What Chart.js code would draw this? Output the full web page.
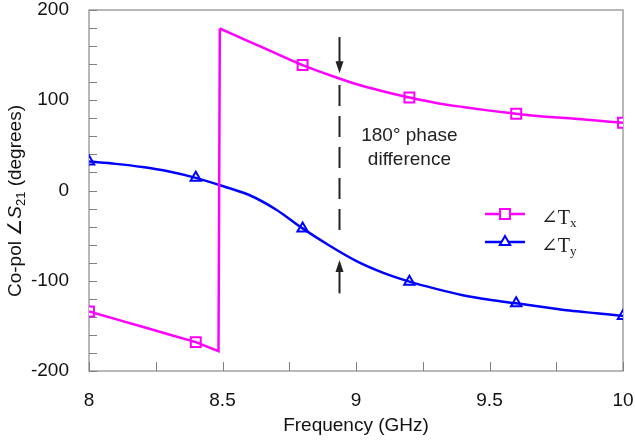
<!DOCTYPE html>
<html>
<head>
<meta charset="utf-8">
<script src="https://cdn.jsdelivr.net/npm/chart.js@4/dist/chart.umd.min.js"></script>
<style>
  html, body { margin: 0; padding: 0; background: #fff; }
  #wrap { width: 635px; height: 442px; }
</style>
</head>
<body>
<div id="wrap"><canvas id="grafica" width="635" height="442"></canvas></div>
<script>
// co-pol phase of the two transmission coefficients
const freqTx = [8, 8.1, 8.2, 8.3, 8.4, 8.485, 8.49, 8.6, 8.7, 8.8, 8.9, 9.0, 9.1, 9.2, 9.3, 9.4, 9.5, 9.6, 9.7, 9.8, 9.9, 10];
const phaseTx = [-134, -142.5, -151, -159.5, -168, -178, 179.5, 165, 152, 139, 128, 118, 110, 103, 97, 92.5, 88.5, 85, 82, 80, 77.5, 75];

const freqTy = [8, 8.1, 8.2, 8.3, 8.4, 8.5, 8.6, 8.7, 8.8, 8.9, 9.0, 9.1, 9.2, 9.3, 9.4, 9.5, 9.6, 9.7, 9.8, 9.9, 10];
const phaseTy = [32, 29.5, 26, 21, 14, 5, -5, -21, -42, -61, -78, -91, -101, -109, -116, -121, -125, -129, -133, -136, -139];

// frequencies that carry a marker
const markerFreq = [8, 8.4, 8.8, 9.2, 9.6, 10];

const xTickLabels = ["8", "8.5", "9", "9.5", "10"];
const yTickLabels = ["-200", "-100", "0", "100", "200"];

const MAGENTA = "#ff00ff";
const BLUE = "#0000ff";
const FONT = "'Liberation Sans', Arial, sans-serif";
const SERIF = "'Liberation Serif', 'DejaVu Serif', serif";

function pts(xs, ys) {
  return xs.map((x, i) => ({ x: x, y: ys[i] }));
}
function marks(xs, ys) {
  return pts(xs, ys).filter(p => markerFreq.some(f => Math.abs(f - p.x) < 1e-9));
}

// Tx wraps from -180 to +180: straight part up to the wrap, smooth part after
const txAll = pts(freqTx, phaseTx);
const wrapIdx = phaseTx.findIndex((v, i) => i > 0 && v - phaseTx[i - 1] > 180);
const txBefore = txAll.slice(0, wrapIdx + 1);
const txAfter = txAll.slice(wrapIdx);

// frame, inward ticks, titles, legend and the 180° annotation
const decor = {
  id: "decor",
  beforeDatasetsDraw(chart) {
    const { ctx, chartArea: a, scales: { x, y } } = chart;
    ctx.save();
    ctx.strokeStyle = "#a0a0a0";
    ctx.lineWidth = 1.5;
    ctx.strokeRect(a.left, a.top, a.right - a.left, a.bottom - a.top);
    ctx.strokeStyle = "#808080";
    ctx.lineWidth = 1;
    ctx.beginPath();
    y.ticks.forEach(t => {
      const py = Math.round(y.getPixelForValue(t.value)) + 0.5;
      ctx.moveTo(a.left, py);
      ctx.lineTo(a.left + 8, py);
    });
    x.ticks.forEach(t => {
      const px = Math.round(x.getPixelForValue(t.value)) + 0.5;
      ctx.moveTo(px, a.bottom);
      ctx.lineTo(px, a.bottom - 9);
    });
    ctx.stroke();
    ctx.restore();
  },
  afterDatasetsDraw(chart) {
    const { ctx, chartArea: a, scales: { x, y } } = chart;
    ctx.save();

    // annotation: dashed marker between the curves with arrows
    const ax = Math.round(x.getPixelForValue(8.936)) + 0.5;
    ctx.strokeStyle = "#222";
    ctx.fillStyle = "#222";
    ctx.lineWidth = 2;
    ctx.setLineDash([21, 10]);
    ctx.beginPath();
    ctx.moveTo(ax, y.getPixelForValue(117));
    ctx.lineTo(ax, y.getPixelForValue(-53));
    ctx.stroke();
    ctx.setLineDash([]);
    arrow(ctx, ax, y.getPixelForValue(170), y.getPixelForValue(130));
    arrow(ctx, ax, y.getPixelForValue(-114), y.getPixelForValue(-77));

    ctx.font = "19px " + FONT;
    ctx.fillStyle = "#222";
    ctx.textAlign = "center";
    ctx.textBaseline = "middle";
    const tx = x.getPixelForValue(9.2);
    ctx.fillText("180° phase", tx, y.getPixelForValue(61));
    ctx.fillText("difference", tx, y.getPixelForValue(34));

    // legend
    legendRow(ctx, 214, MAGENTA, "rect", 7, "x");
    legendRow(ctx, 242, BLUE, "triangle", 6, "y");

    // axis titles
    ctx.fillStyle = "#111";
    ctx.font = "19px " + FONT;
    ctx.textAlign = "center";
    ctx.textBaseline = "middle";
    ctx.fillText("Frequency (GHz)", (a.left + a.right) / 2, 426);

    ctx.translate(16, 297);
    ctx.rotate(-Math.PI / 2);
    ctx.textAlign = "left";
    ctx.textBaseline = "middle";
    let cx = 0;
    const part = (txt, font, dy) => {
      ctx.font = font;
      ctx.fillText(txt, cx, dy);
      cx += ctx.measureText(txt).width;
    };
    part("Co-pol ∠", "19px " + FONT, 0);
    part("S", "italic 19px " + FONT, 0);
    part("21", "13px " + FONT, 5);
    part(" (degrees)", "19px " + FONT, 0);
    ctx.restore();
  }
};

function arrow(ctx, px, from, tip) {
  const dir = tip > from ? 1 : -1;
  ctx.beginPath();
  ctx.moveTo(px, from);
  ctx.lineTo(px, tip - dir * 10);
  ctx.stroke();
  ctx.beginPath();
  ctx.moveTo(px, tip);
  ctx.lineTo(px - 4, tip - dir * 12);
  ctx.lineTo(px + 4, tip - dir * 12);
  ctx.closePath();
  ctx.fill();
}

function legendRow(ctx, ly, color, style, radius, sub) {
  ctx.strokeStyle = color;
  ctx.lineWidth = 2.5;
  ctx.beginPath();
  ctx.moveTo(485, ly);
  ctx.lineTo(525, ly);
  ctx.stroke();
  ctx.fillStyle = "#fff";
  ctx.lineWidth = 2;
  Chart.helpers.drawPoint(ctx, { pointStyle: style, radius: radius, borderWidth: 2, rotation: 0 }, 505, ly);
  ctx.fillStyle = "#222";
  ctx.textAlign = "left";
  ctx.textBaseline = "alphabetic";
  ctx.font = "20px " + SERIF;
  ctx.fillText("∠T", 541, ly + 10);
  const w = ctx.measureText("∠T").width;
  ctx.font = "13px " + SERIF;
  ctx.fillText(sub, 541 + w, ly + 13);
}

const ctx = document.getElementById("grafica").getContext("2d");

const chart = new Chart(ctx, {
  type: "line",
  data: {
    datasets: [
      {
        data: txBefore,
        borderColor: MAGENTA,
        borderWidth: 2.5,
        pointRadius: 0,
        tension: 0
      },
      {
        data: txAfter,
        borderColor: MAGENTA,
        borderWidth: 2.5,
        pointRadius: 0,
        cubicInterpolationMode: "monotone"
      },
      {
        data: pts(freqTy, phaseTy),
        borderColor: BLUE,
        borderWidth: 2.5,
        pointRadius: 0,
        cubicInterpolationMode: "monotone"
      },
      {
        data: marks(freqTx, phaseTx),
        showLine: false,
        pointStyle: "rect",
        pointRadius: 7,
        borderWidth: 2,
        borderColor: MAGENTA,
        backgroundColor: "#fff"
      },
      {
        data: marks(freqTy, phaseTy),
        showLine: false,
        pointStyle: "triangle",
        pointRadius: 6,
        borderWidth: 2,
        borderColor: BLUE,
        backgroundColor: "#fff"
      }
    ]
  },
  options: {
    responsive: false,
    animation: false,
    layout: { padding: { left: 0, top: 10, right: 12, bottom: 0 } },
    plugins: { legend: { display: false }, tooltip: { enabled: false } },
    scales: {
      x: {
        type: "linear",
        min: 8,
        max: 10,
        grid: { display: false, drawTicks: false },
        border: { display: false },
        ticks: {
          stepSize: 0.25,
          padding: 18,
          color: "#111",
          font: { family: FONT, size: 19 },
          maxRotation: 0,
          autoSkip: false,
          callback: v => {
            const i = Math.round((v - 8) * 2);
            return Math.abs((v - 8) * 2 - i) < 1e-9 ? xTickLabels[i] : "";
          }
        },
        afterFit: s => {
          s.height = 71;
          s.paddingLeft = 0;
          s.paddingRight = 0;
        }
      },
      y: {
        min: -200,
        max: 200,
        grid: { display: false, drawTicks: false },
        border: { display: false },
        ticks: {
          stepSize: 20,
          padding: 20,
          color: "#111",
          font: { family: FONT, size: 19 },
          autoSkip: false,
          callback: v => {
            const i = Math.round((v + 200) / 100);
            return Math.abs((v + 200) / 100 - i) < 1e-9 ? yTickLabels[i] : "";
          }
        },
        afterFit: s => {
          s.width = 89;
          s.paddingTop = 0;
          s.paddingBottom = 0;
        }
      }
    }
  },
  plugins: [decor]
});
</script>
</body>
</html>
